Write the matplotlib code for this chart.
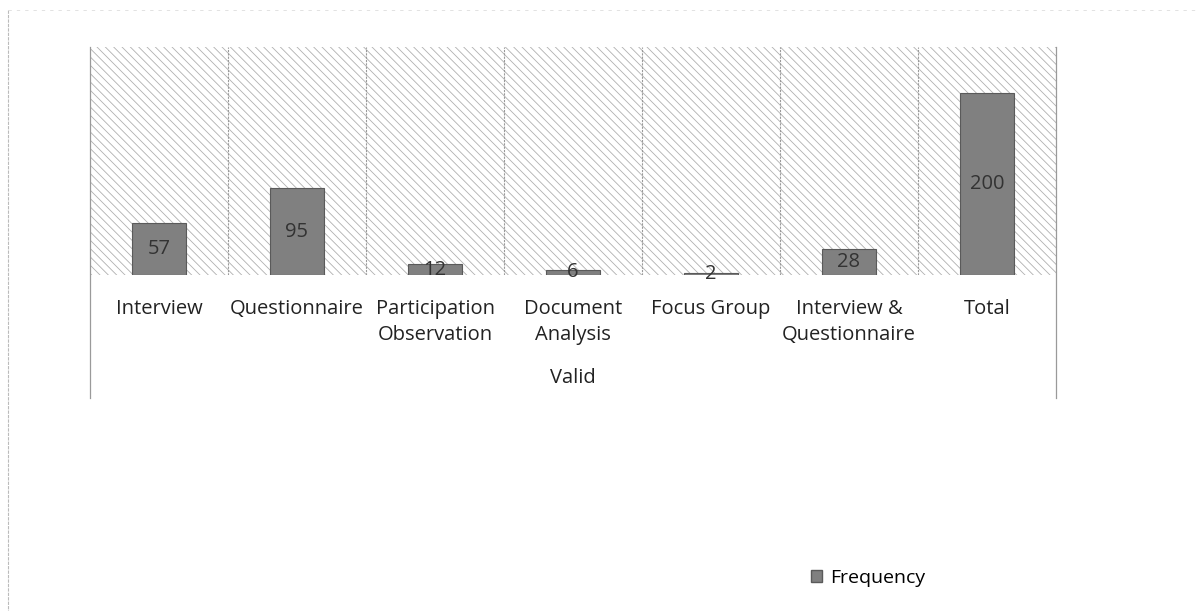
import matplotlib
matplotlib.use("Agg")
import matplotlib.pyplot as plt
from matplotlib.patches import Rectangle, Patch
from matplotlib.lines import Line2D

categories = ["Interview", "Questionnaire", "Participation\nObservation", "Document\nAnalysis",
              "Focus Group", "Interview &\nQuestionnaire", "Total"]
frequency = [57, 95, 12, 6, 2, 28, 200]
group_label = "Valid"
series_name = "Frequency"

plt.rcParams['font.family'] = ['Open Sans', 'DejaVu Sans']
plt.rcParams['hatch.linewidth'] = 0.6

W, H = 1198, 611
fig = plt.figure(figsize=(W / 100, H / 100), dpi=100)
x0, x1, ytop, ybot = 90, 1056, 47, 275
ax = fig.add_axes([x0 / W, 1 - ybot / H, (x1 - x0) / W, (ybot - ytop) / H])
ax.set_facecolor('white')

bg = Rectangle((0, 0), 1, 1, transform=ax.transAxes, facecolor='white',
               edgecolor='#b0b0b0', hatch='\\\\\\\\', linewidth=0, zorder=0)
ax.add_patch(bg)

xs = list(range(len(categories)))
bars = ax.bar(xs, frequency, width=0.39, color='#808080', edgecolor='#5a5a5a',
              linewidth=0.8, zorder=3)
for xi, v in zip(xs, frequency):
    ax.text(xi, v / 2, str(v), ha='center', va='center', fontsize=14.5,
            color='#333333', zorder=4)

ax.set_xlim(-0.5, len(categories) - 0.5)
ax.set_ylim(0, 250)
for s in ax.spines.values():
    s.set_visible(False)
ax.set_yticks([])
ax.set_xticks(xs)
ax.set_xticklabels(categories, fontsize=14.5, color='#222222', linespacing=1.45)
ax.tick_params(axis='x', length=0, pad=17)
for lbl in ax.get_xticklabels():
    lbl.set_verticalalignment('top')

for b in range(1, len(categories)):
    ax.axvline(b - 0.5, color='#9a9a9a', linewidth=0.8, linestyle=(0, (2, 1)), zorder=2)

ext = -(398 - ybot) / (ybot - ytop)
for xa in (0, 1):
    ax.add_line(Line2D([xa, xa], [1, ext], transform=ax.transAxes, color='#9a9a9a',
                       linewidth=0.9, clip_on=False))

ax.text(0.5, -(378 - ybot) / (ybot - ytop), group_label, transform=ax.transAxes,
        ha='center', va='center', fontsize=14.5, color='#222222')

# chart area border (left and top, faint)
fig.add_artist(Line2D([8 / W, 8 / W], [1 - 10 / H, 0], transform=fig.transFigure,
                      color='#bbbbbb', linewidth=0.8, linestyle=(0, (3, 1))))
fig.add_artist(Line2D([8 / W, 1], [1 - 10 / H, 1 - 10 / H], transform=fig.transFigure,
                      color='#dddddd', linewidth=0.6, linestyle=(0, (4, 6))))

handle = Patch(facecolor='#808080', edgecolor='#5a5a5a', label=series_name)
fig.legend(handles=[handle], loc='center left', bbox_to_anchor=(793 / W, 1 - 578 / H),
           frameon=False, fontsize=14, handlelength=0.6, handleheight=0.6,
           handletextpad=0.4)

fig.savefig('out.png', dpi=100)
